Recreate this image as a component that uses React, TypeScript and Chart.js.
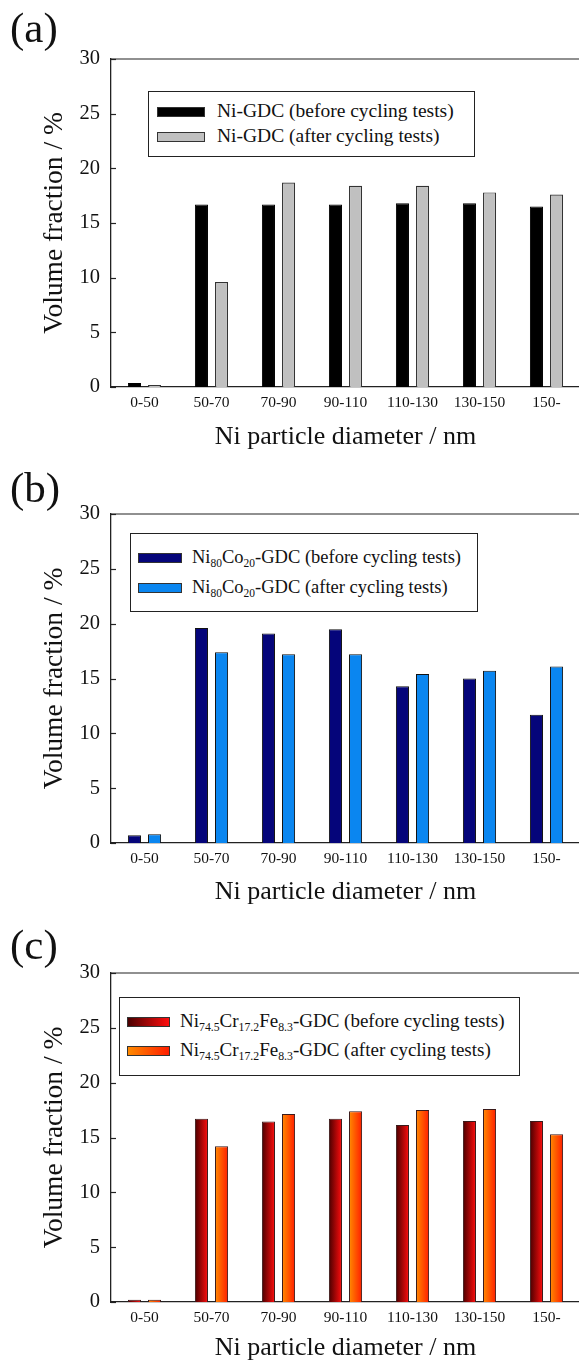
import React, { useEffect, useRef } from "react";
import { Chart, registerables } from "chart.js";

Chart.register(...registerables);

// ---------- data ----------
const categories = ["0-50", "50-70", "70-90", "90-110", "110-130", "130-150", "150-"];
const yTicks = [0, 5, 10, 15, 20, 25, 30];

const niBefore = [0.37, 16.7, 16.7, 16.7, 16.8, 16.8, 16.5];
const niAfter = [0.18, 9.6, 18.7, 18.4, 18.4, 17.8, 17.6];

const nicoBefore = [0.7, 19.6, 19.1, 19.5, 14.3, 15.0, 11.7];
const nicoAfter = [0.8, 17.4, 17.2, 17.2, 15.4, 15.7, 16.1];

const nicrBefore = [0.2, 16.7, 16.45, 16.7, 16.15, 16.5, 16.5];
const nicrAfter = [0.2, 14.2, 17.15, 17.4, 17.5, 17.6, 15.3];

const FONT = "'Liberation Serif', 'Times New Roman', serif";
const TXT = "#111";

// ---------- plugins ----------
const framePlugin = {
  id: "frameTicks",
  afterDraw(chart: any) {
    const { ctx, chartArea } = chart;
    const ys = chart.scales.y;
    ctx.save();
    ctx.strokeStyle = "#222";
    ctx.lineWidth = 1.2;
    ctx.beginPath();
    ctx.moveTo(chartArea.left, chartArea.top);
    ctx.lineTo(chartArea.right, chartArea.top);
    ctx.lineTo(chartArea.right, chartArea.bottom);
    ctx.stroke();
    ys.ticks.forEach((t: any) => {
      const py = Math.round(ys.getPixelForValue(t.value)) + 0.5;
      ctx.beginPath();
      ctx.moveTo(chartArea.left, py);
      ctx.lineTo(chartArea.left + 5, py);
      ctx.stroke();
    });
    ctx.restore();
  },
};

const gradientPlugin = {
  id: "barGradient",
  beforeDatasetsDraw(chart: any) {
    chart.data.datasets.forEach((ds: any, i: number) => {
      const stops = ds.gradientStops;
      if (!stops) return;
      const meta = chart.getDatasetMeta(i);
      meta.data.forEach((el: any) => {
        const { x, width } = el.getProps(["x", "width"], true);
        const g = chart.ctx.createLinearGradient(x - width / 2, 0, x + width / 2, 0);
        g.addColorStop(0, stops[0]);
        g.addColorStop(1, stops[1]);
        el.options.backgroundColor = g;
      });
    });
  },
};

// ---------- panel ----------
type LegendItem = { swatch: string; label: React.ReactNode };
type PanelProps = {
  top: number;
  height: number;
  plotTop: number;
  plotBottom: number;
  tag: string;
  tagTop: number;
  datasets: any[];
  legend: {
    left: number;
    top: number;
    width: number;
    height: number;
    swLeft: number;
    swWidth: number;
    rows: number[];
    textLeft: number;
    fontSize: number;
    items: LegendItem[];
  };
};

function Panel(p: PanelProps) {
  const ref = useRef<HTMLCanvasElement | null>(null);
  useEffect(() => {
    if (!ref.current) return;
    const chart = new Chart(ref.current, {
      type: "bar",
      data: { labels: categories, datasets: p.datasets },
      plugins: [gradientPlugin, framePlugin],
      options: {
        animation: false,
        responsive: false,
        maintainAspectRatio: false,
        events: [],
        layout: { padding: { top: p.plotTop, right: 20, left: 0, bottom: 0 } },
        plugins: { legend: { display: false }, tooltip: { enabled: false } },
        datasets: { bar: { categoryPercentage: 0.6, barPercentage: 0.65 } },
        scales: {
          x: {
            type: "category",
            grid: { display: false, drawTicks: false },
            border: { display: true, color: "#222", width: 1.3 },
            ticks: {
              font: { family: FONT, size: 15.5 },
              color: TXT,
              padding: 7,
              maxRotation: 0,
              autoSkip: false,
            },
            title: {
              display: true,
              text: "Ni particle diameter / nm",
              font: { family: FONT, size: 26 },
              color: TXT,
              padding: { top: 0, bottom: 2 },
            },
            afterFit: (s: any) => {
              s.height = p.height - p.plotBottom;
            },
          },
          y: {
            min: 0,
            max: 30,
            grid: { display: false, drawTicks: false },
            border: { display: true, color: "#222", width: 1.3 },
            afterBuildTicks: (s: any) => {
              s.ticks = yTicks.map((v) => ({ value: v }));
            },
            ticks: {
              font: { family: FONT, size: 20.5 },
              color: TXT,
              padding: 11,
            },
            title: {
              display: true,
              text: "Volume fraction / %",
              font: { family: FONT, size: 27.5 },
              color: TXT,
              padding: { top: 38, bottom: 0 },
            },
            afterFit: (s: any) => {
              s.width = 111;
            },
          },
        },
      } as any,
    });
    return () => chart.destroy();
  }, []);

  const L = p.legend;
  return (
    <div style={{ position: "absolute", left: 0, top: p.top, width: 600, height: p.height }}>
      <canvas ref={ref} width={600} height={p.height} style={{ width: 600, height: p.height, display: "block" }} />
      <div
        style={{
          position: "absolute",
          left: 10,
          top: p.tagTop,
          fontFamily: FONT,
          fontSize: 43,
          lineHeight: "43px",
          color: TXT,
        }}
      >
        {p.tag}
      </div>
      <div
        style={{
          position: "absolute",
          left: L.left,
          top: L.top,
          width: L.width,
          height: L.height,
          border: "1.3px solid #222",
          boxSizing: "border-box",
          background: "#fff",
        }}
      />
      {L.items.map((it, i) => (
        <React.Fragment key={i}>
          <div
            style={{
              position: "absolute",
              left: L.swLeft,
              top: L.rows[i] - 5,
              width: L.swWidth,
              height: 10,
              background: it.swatch,
              border: "1px solid #333",
              boxSizing: "border-box",
            }}
          />
          <div
            style={{
              position: "absolute",
              left: L.textLeft,
              top: L.rows[i] - 13,
              fontFamily: FONT,
              fontSize: L.fontSize,
              lineHeight: "24px",
              whiteSpace: "nowrap",
              color: TXT,
            }}
          >
            {it.label}
          </div>
        </React.Fragment>
      ))}
    </div>
  );
}

const subStyle: React.CSSProperties = { fontSize: "0.62em", verticalAlign: "-0.34em", lineHeight: 0 };
const Sub = ({ t }: { t: string }) => <sub style={subStyle}>{t}</sub>;

const redBefore = ["#4a0000", "#ff0d0d"];
const redAfter = ["#ff8a00", "#ff1e00"];

export default function App() {
  const border = "#333";
  return (
    <div
      style={{
        position: "absolute",
        left: 0,
        top: 0,
        width: 579,
        height: 1366,
        overflow: "hidden",
        background: "#fff",
      }}
    >
      <Panel
        top={0}
        height={455}
        plotTop={59}
        plotBottom={387}
        tag="(a)"
        tagTop={6}
        datasets={[
          { label: "Ni-GDC (before cycling tests)", data: niBefore, backgroundColor: "#000", borderColor: "#000", borderWidth: 1 },
          { label: "Ni-GDC (after cycling tests)", data: niAfter, backgroundColor: "#c0c0c0", borderColor: border, borderWidth: 1.2 },
        ]}
        legend={{
          left: 148,
          top: 91,
          width: 327,
          height: 66,
          swLeft: 157,
          swWidth: 48,
          rows: [112, 137],
          textLeft: 217,
          fontSize: 19.5,
          items: [
            { swatch: "#000", label: "Ni-GDC (before cycling tests)" },
            { swatch: "#c0c0c0", label: "Ni-GDC (after cycling tests)" },
          ],
        }}
      />
      <Panel
        top={455}
        height={455}
        plotTop={59}
        plotBottom={388}
        tag="(b)"
        tagTop={11}
        datasets={[
          { label: "Ni80Co20-GDC (before cycling tests)", data: nicoBefore, backgroundColor: "#05057a", borderColor: "#111", borderWidth: 1 },
          { label: "Ni80Co20-GDC (after cycling tests)", data: nicoAfter, backgroundColor: "#0a86f0", borderColor: "#111", borderWidth: 1 },
        ]}
        legend={{
          left: 130,
          top: 78,
          width: 348,
          height: 79,
          swLeft: 138,
          swWidth: 44,
          rows: [103, 133],
          textLeft: 192,
          fontSize: 18.5,
          items: [
            { swatch: "#05057a", label: <>Ni<Sub t="80" />Co<Sub t="20" />-GDC (before cycling tests)</> },
            { swatch: "#0a86f0", label: <>Ni<Sub t="80" />Co<Sub t="20" />-GDC (after cycling tests)</> },
          ],
        }}
      />
      <Panel
        top={910}
        height={456}
        plotTop={63}
        plotBottom={392}
        tag="(c)"
        tagTop={13}
        datasets={[
          {
            label: "Ni74.5Cr17.2Fe8.3-GDC (before cycling tests)",
            data: nicrBefore,
            backgroundColor: () => redBefore[1],
            gradientStops: redBefore,
            borderColor: "#3a1a1a",
            borderWidth: 1,
          },
          {
            label: "Ni74.5Cr17.2Fe8.3-GDC (after cycling tests)",
            data: nicrAfter,
            backgroundColor: () => redAfter[1],
            gradientStops: redAfter,
            borderColor: "#3a1a1a",
            borderWidth: 1,
          },
        ]}
        legend={{
          left: 119,
          top: 87,
          width: 401,
          height: 79,
          swLeft: 127,
          swWidth: 43,
          rows: [112, 141],
          textLeft: 180,
          fontSize: 19,
          items: [
            {
              swatch: `linear-gradient(to right, ${redBefore[0]}, ${redBefore[1]})`,
              label: <>Ni<Sub t="74.5" />Cr<Sub t="17.2" />Fe<Sub t="8.3" />-GDC (before cycling tests)</>,
            },
            {
              swatch: `linear-gradient(to right, ${redAfter[0]}, ${redAfter[1]})`,
              label: <>Ni<Sub t="74.5" />Cr<Sub t="17.2" />Fe<Sub t="8.3" />-GDC (after cycling tests)</>,
            },
          ],
        }}
      />
    </div>
  );
}
